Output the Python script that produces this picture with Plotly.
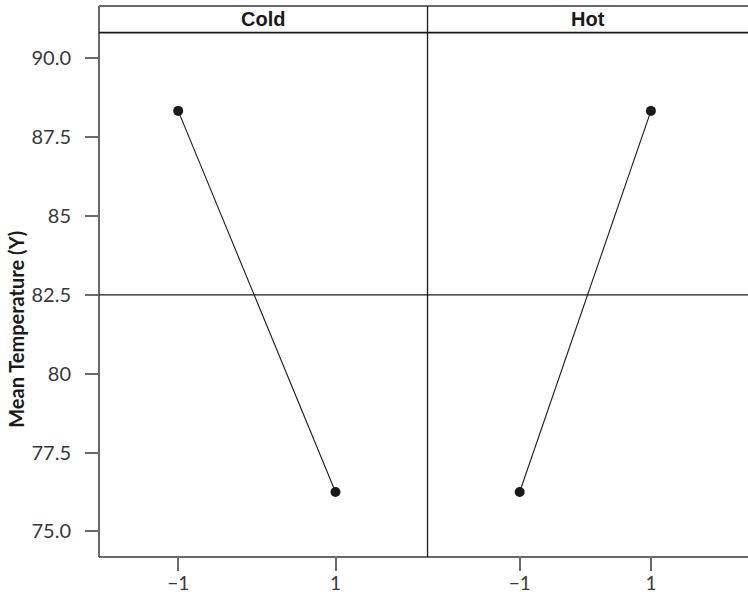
import plotly.graph_objects as go

# ---- data ----
panels = ["Cold", "Hot"]
levels = [-1, 1]
cold_means = [88.33, 76.25]
hot_means = [76.25, 88.33]
grand_mean = 82.5
y_ticks = [75.0, 77.5, 80.0, 82.5, 85.0, 87.5, 90.0]
y_tick_text = ["75.0", "77.5", "80", "82.5", "85", "87.5", "90.0"]
x_tick_text = ["\u22121", "1"]
y_label = "Mean Temperature (Y)"

W, H = 748, 595
L, R, T, B = 98.5, 0, 6, 37.5
split = 0.5062
data_top = 0.9516

dark = "#1a1a1a"
grey = "#6a6a6a"
tick_font = dict(family="Lato, 'Open Sans', sans-serif", size=20, color="#383838")
xtick_font = dict(family="Lato, 'Open Sans', sans-serif", size=19, color="#383838")

fig = go.Figure()
fig.add_trace(go.Scatter(x=levels, y=cold_means, mode="lines+markers",
                         line=dict(color=dark, width=1.1),
                         marker=dict(color=dark, size=10),
                         xaxis="x", yaxis="y", showlegend=False))
fig.add_trace(go.Scatter(x=levels, y=hot_means, mode="lines+markers",
                         line=dict(color=dark, width=1.1),
                         marker=dict(color=dark, size=10),
                         xaxis="x2", yaxis="y", showlegend=False))

xcommon = dict(tickvals=levels, ticktext=x_tick_text, ticks="outside", ticklen=13,
               tickcolor=grey, tickwidth=1.5, showgrid=False, zeroline=False,
               showline=False, tickfont=xtick_font, anchor="y",
               ticklabelstandoff=-4)
fig.update_layout(
    width=W, height=H,
    margin=dict(l=L, r=R, t=T, b=B, pad=0, autoexpand=False),
    plot_bgcolor="white", paper_bgcolor="white",
    xaxis=dict(domain=[0, split], range=[-2.007, 2.17], **xcommon),
    xaxis2=dict(domain=[split, 1], range=[-2.405, 2.48], **xcommon),
    yaxis=dict(domain=[0, data_top], range=[82.5 - 8.31, 82.5 + 8.31],
               tickvals=y_ticks, ticktext=y_tick_text, ticks="outside",
               ticklen=13, tickcolor=grey, tickwidth=1.5, showgrid=False,
               zeroline=False, showline=False, tickfont=tick_font,
               ticklabelstandoff=10),
)

shapes = []
# outer frame: left spine, top border, bottom axis
shapes.append(dict(type="line", xref="paper", yref="paper", x0=0, x1=0, y0=0, y1=1,
                   line=dict(color=grey, width=2)))
shapes.append(dict(type="line", xref="paper", yref="paper", x0=0, x1=1, y0=1, y1=1,
                   line=dict(color=grey, width=2)))
shapes.append(dict(type="line", xref="paper", yref="paper", x0=0, x1=1, y0=0, y1=0,
                   line=dict(color=grey, width=2)))
# strip bottom, panel divider
shapes.append(dict(type="line", xref="paper", yref="paper", x0=0, x1=1,
                   y0=data_top, y1=data_top, line=dict(color=dark, width=1.6)))
shapes.append(dict(type="line", xref="paper", yref="paper", x0=split, x1=split,
                   y0=0, y1=1, line=dict(color=dark, width=1.3)))
# grand mean reference line
shapes.append(dict(type="line", xref="paper", yref="y", x0=0, x1=1,
                   y0=grand_mean, y1=grand_mean, line=dict(color=dark, width=1.2)))
fig.update_layout(shapes=shapes)

ann = []
for i, name in enumerate(panels):
    cx = split / 2 if i == 0 else (split + 1) / 2
    ann.append(dict(text="<b>%s</b>" % name, xref="paper", yref="paper",
                    x=cx, y=(data_top + 1) / 2, showarrow=False,
                    xanchor="center", yanchor="middle",
                    font=dict(family="Liberation Sans, Arial, sans-serif",
                              size=20, color=dark)))
ann.append(dict(text="<b>%s</b>" % y_label, xref="paper", yref="paper",
                x=-(L - 15.5) / (W - L - R), y=(H - B - 330) / (H - T - B),
                showarrow=False, textangle=-90, xanchor="center", yanchor="middle",
                font=dict(family="Lato, 'Open Sans', sans-serif", size=20,
                          color=dark)))
fig.update_layout(annotations=ann)

fig.write_html("out.html", config={"displayModeBar": False},
               post_script="document.body.style.margin='0';document.body.style.padding='0';")
